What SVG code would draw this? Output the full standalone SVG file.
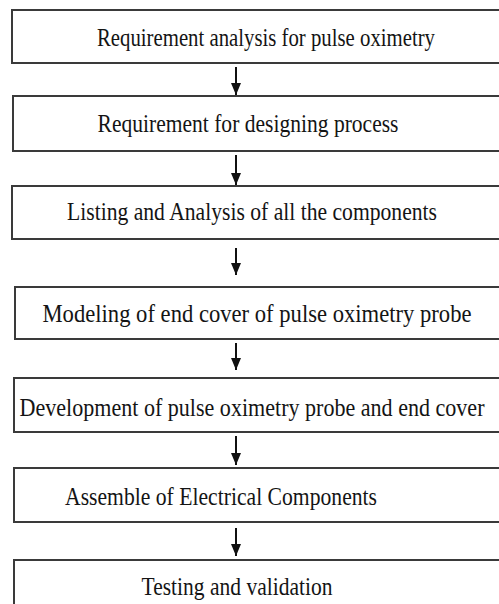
<svg xmlns="http://www.w3.org/2000/svg" width="499" height="604" viewBox="0 0 499 604">
<defs>
<marker id="ah" markerWidth="12" markerHeight="10" refX="12" refY="5" orient="auto" markerUnits="userSpaceOnUse" viewBox="0 0 12 10">
<path d="M0,0 L12,5 L0,10 Z" fill="#111"/>
</marker>
</defs>
<style>
.box{fill:#fff;stroke:#3a3a3a;stroke-width:2}
.lbl{font-family:'Liberation Serif','Times New Roman',serif;font-size:21px;fill:#141414;text-anchor:middle}
.conn{stroke:#111;stroke-width:2;fill:none}
</style>
<rect width="499" height="604" fill="#fff"/>
<g id="n1"><rect class="box" x="12" y="10" width="500" height="53"/><text class="lbl" transform="translate(266,46) scale(1,1.19)" x="0" y="0" textLength="338" lengthAdjust="spacingAndGlyphs">Requirement analysis for pulse oximetry</text></g>
<g id="n2"><rect class="box" x="13" y="96" width="500" height="55"/><text class="lbl" transform="translate(248,132) scale(1,1.19)" x="0" y="0" textLength="301" lengthAdjust="spacingAndGlyphs">Requirement for designing process</text></g>
<g id="n3"><rect class="box" x="12" y="186" width="500" height="53"/><text class="lbl" transform="translate(252,220) scale(1,1.19)" x="0" y="0" textLength="370" lengthAdjust="spacingAndGlyphs">Listing and Analysis of all the components</text></g>
<g id="n4"><rect class="box" x="15" y="287" width="500" height="52"/><text class="lbl" transform="translate(257,322) scale(1,1.19)" x="0" y="0" textLength="429" lengthAdjust="spacingAndGlyphs">Modeling of end cover of pulse oximetry probe</text></g>
<g id="n5"><rect class="box" x="14" y="378" width="500" height="54"/><text class="lbl" transform="translate(252,416) scale(1,1.19)" x="0" y="0" textLength="465" lengthAdjust="spacingAndGlyphs">Development of pulse oximetry probe and end cover</text></g>
<g id="n6"><rect class="box" x="14" y="468" width="500" height="54"/><text class="lbl" transform="translate(221,505) scale(1,1.19)" x="0" y="0" textLength="312" lengthAdjust="spacingAndGlyphs">Assemble of Electrical Components</text></g>
<g id="n7"><rect class="box" x="14" y="560" width="500" height="60"/><text class="lbl" transform="translate(237,595) scale(1,1.19)" x="0" y="0" textLength="191" lengthAdjust="spacingAndGlyphs">Testing and validation</text></g>
<g id="connectors">
<line class="conn" x1="236" y1="67" x2="236" y2="95" marker-end="url(#ah)"/>
<line class="conn" x1="236" y1="155" x2="236" y2="185" marker-end="url(#ah)"/>
<line class="conn" x1="236" y1="248" x2="236" y2="275" marker-end="url(#ah)"/>
<line class="conn" x1="236" y1="343" x2="236" y2="370" marker-end="url(#ah)"/>
<line class="conn" x1="236" y1="436" x2="236" y2="465" marker-end="url(#ah)"/>
<line class="conn" x1="236" y1="528" x2="236" y2="556" marker-end="url(#ah)"/>
</g>
</svg>
